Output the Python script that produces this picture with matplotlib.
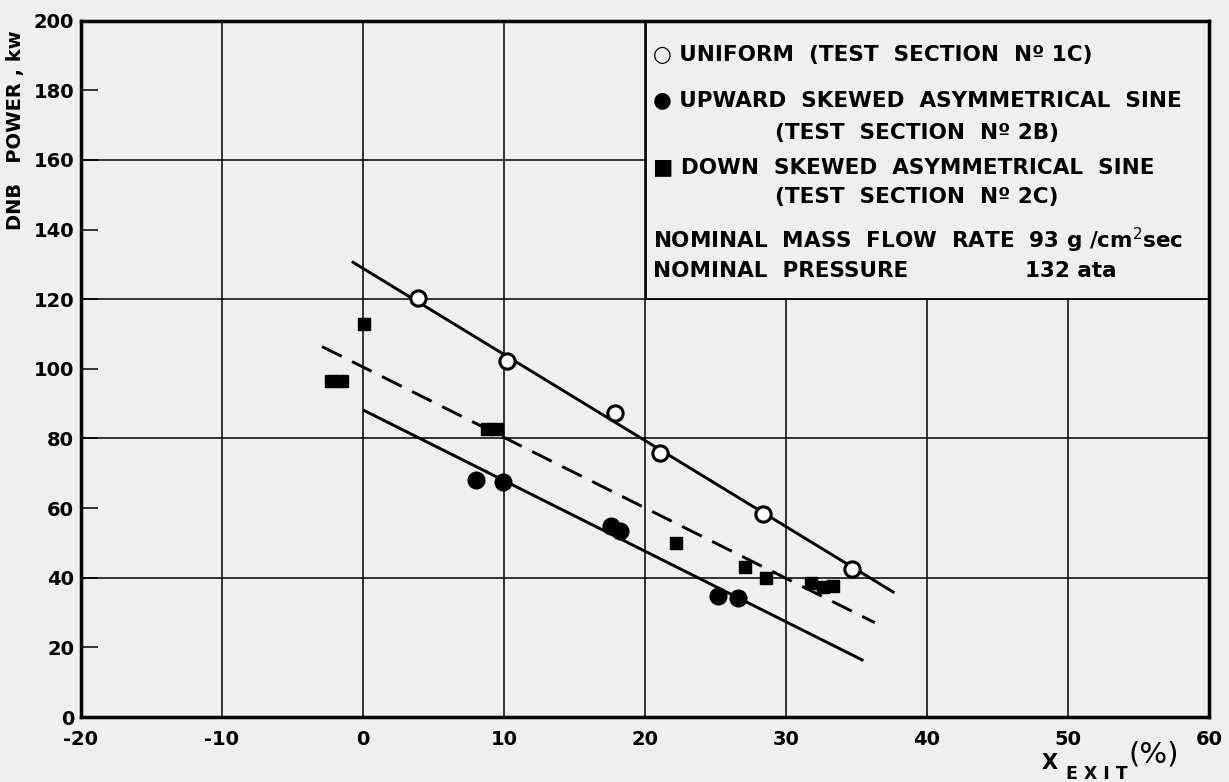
import matplotlib
matplotlib.use("Agg")
import matplotlib.pyplot as plt
from matplotlib.patches import Rectangle

# ---- data ----
uniform_x = [3.9, 10.2, 17.9, 21.1, 28.4, 34.7]
uniform_y = [120.3, 102.2, 87.3, 75.8, 58.3, 42.5]

upward_x = [8.0, 9.9, 17.6, 18.2, 25.2, 26.6]
upward_y = [68.0, 67.6, 54.8, 53.3, 34.7, 34.1]

down_x = [0.1, -2.3, -1.5, 8.8, 9.5, 22.2, 27.1, 28.6, 31.8, 32.6, 33.3]
down_y = [113.0, 96.6, 96.6, 82.6, 82.6, 49.9, 43.2, 39.8, 38.6, 37.4, 37.6]

# fitted trend lines (end points)
uniform_fit_x = [-0.7, 37.6]
uniform_fit_y = [130.6, 35.9]
upward_fit_x = [0.1, 35.4]
upward_fit_y = [88.0, 16.4]
down_fit_x = [-2.9, 36.3]
down_fit_y = [106.4, 27.1]

x_ticks = [-20, -10, 0, 10, 20, 30, 40, 50, 60]
y_ticks = list(range(0, 201, 20))
y_grid = [40, 80, 120, 160]
x_grid = [-10, 0, 10, 20, 30, 40, 50]

legend_lines = [
    "○ UNIFORM  (TEST  SECTION  Nº 1C)",
    "● UPWARD  SKEWED  ASYMMETRICAL  SINE",
    "(TEST  SECTION  Nº 2B)",
    "■ DOWN  SKEWED  ASYMMETRICAL  SINE",
    "(TEST  SECTION  Nº 2C)",
    "NOMINAL  MASS  FLOW  RATE  93 g /cm$^2$sec",
    "NOMINAL  PRESSURE",
    "132 ata",
]

bg = "#efefef"
fig = plt.figure(figsize=(12.29, 7.82), dpi=100, facecolor=bg)
ax = fig.add_axes([0.0659, 0.0831, 0.9178, 0.8904])
ax.set_facecolor(bg)
ax.set_xlim(-20, 60)
ax.set_ylim(0, 200)

for gx in x_grid:
    ax.axvline(gx, color="black", lw=1.1, zorder=1)
for gy in y_grid:
    ax.axhline(gy, color="black", lw=1.1, zorder=1)

# legend box covering the grid
ax.add_patch(Rectangle((20.1, 120), 39.9, 80, facecolor=bg, edgecolor="black",
                       lw=1.3, zorder=2))

ax.plot(uniform_fit_x, uniform_fit_y, color="black", lw=2.1, zorder=3)
ax.plot(upward_fit_x, upward_fit_y, color="black", lw=2.1, zorder=3)
ax.plot(down_fit_x, down_fit_y, color="black", lw=2.1, ls=(0, (7.5, 4)), zorder=3)

ax.plot(uniform_x, uniform_y, "o", ms=11, mfc="white", mec="black", mew=2.2,
        ls="none", zorder=4)
ax.plot(upward_x, upward_y, "o", ms=12, color="black", ls="none", zorder=4)
ax.plot(down_x, down_y, "s", ms=9, color="black", ls="none", zorder=4)

for s in ax.spines.values():
    s.set_linewidth(2.5)

ax.set_xticks(x_ticks)
ax.set_xticklabels([str(v) for v in x_ticks])
ax.set_yticks(y_ticks)
ax.set_yticklabels([str(v) for v in y_ticks])
ax.tick_params(axis="x", length=0, pad=9, labelsize=14)
ax.tick_params(axis="y", direction="in", length=12, width=1.1, pad=5, labelsize=14)
for lab in ax.get_xticklabels() + ax.get_yticklabels():
    lab.set_fontweight("bold")

ax.set_ylabel("DNB   POWER , kw", fontsize=14, fontweight="bold", labelpad=2)
ax.yaxis.set_label_coords(-0.050, 0.843)

ax.text(0.852, -0.066, "X", transform=ax.transAxes, fontsize=15,
        fontweight="bold", ha="left", va="center")
ax.text(0.873, -0.082, "E X I T", transform=ax.transAxes, fontsize=12.5,
        fontweight="bold", ha="left", va="center")
ax.text(0.929, -0.054, "(%)", transform=ax.transAxes, fontsize=21,
        ha="left", va="center")

lx = [0.507, 0.507, 0.615, 0.507, 0.615, 0.507, 0.507, 0.837]
ly = [0.951, 0.886, 0.839, 0.789, 0.747, 0.685, 0.641, 0.641]
for t, x, y in zip(legend_lines, lx, ly):
    ax.text(x, y, t, transform=ax.transAxes, fontsize=15.5, fontweight="bold",
            ha="left", va="center", zorder=5)

fig.savefig("out.png", dpi=100, facecolor=bg)
